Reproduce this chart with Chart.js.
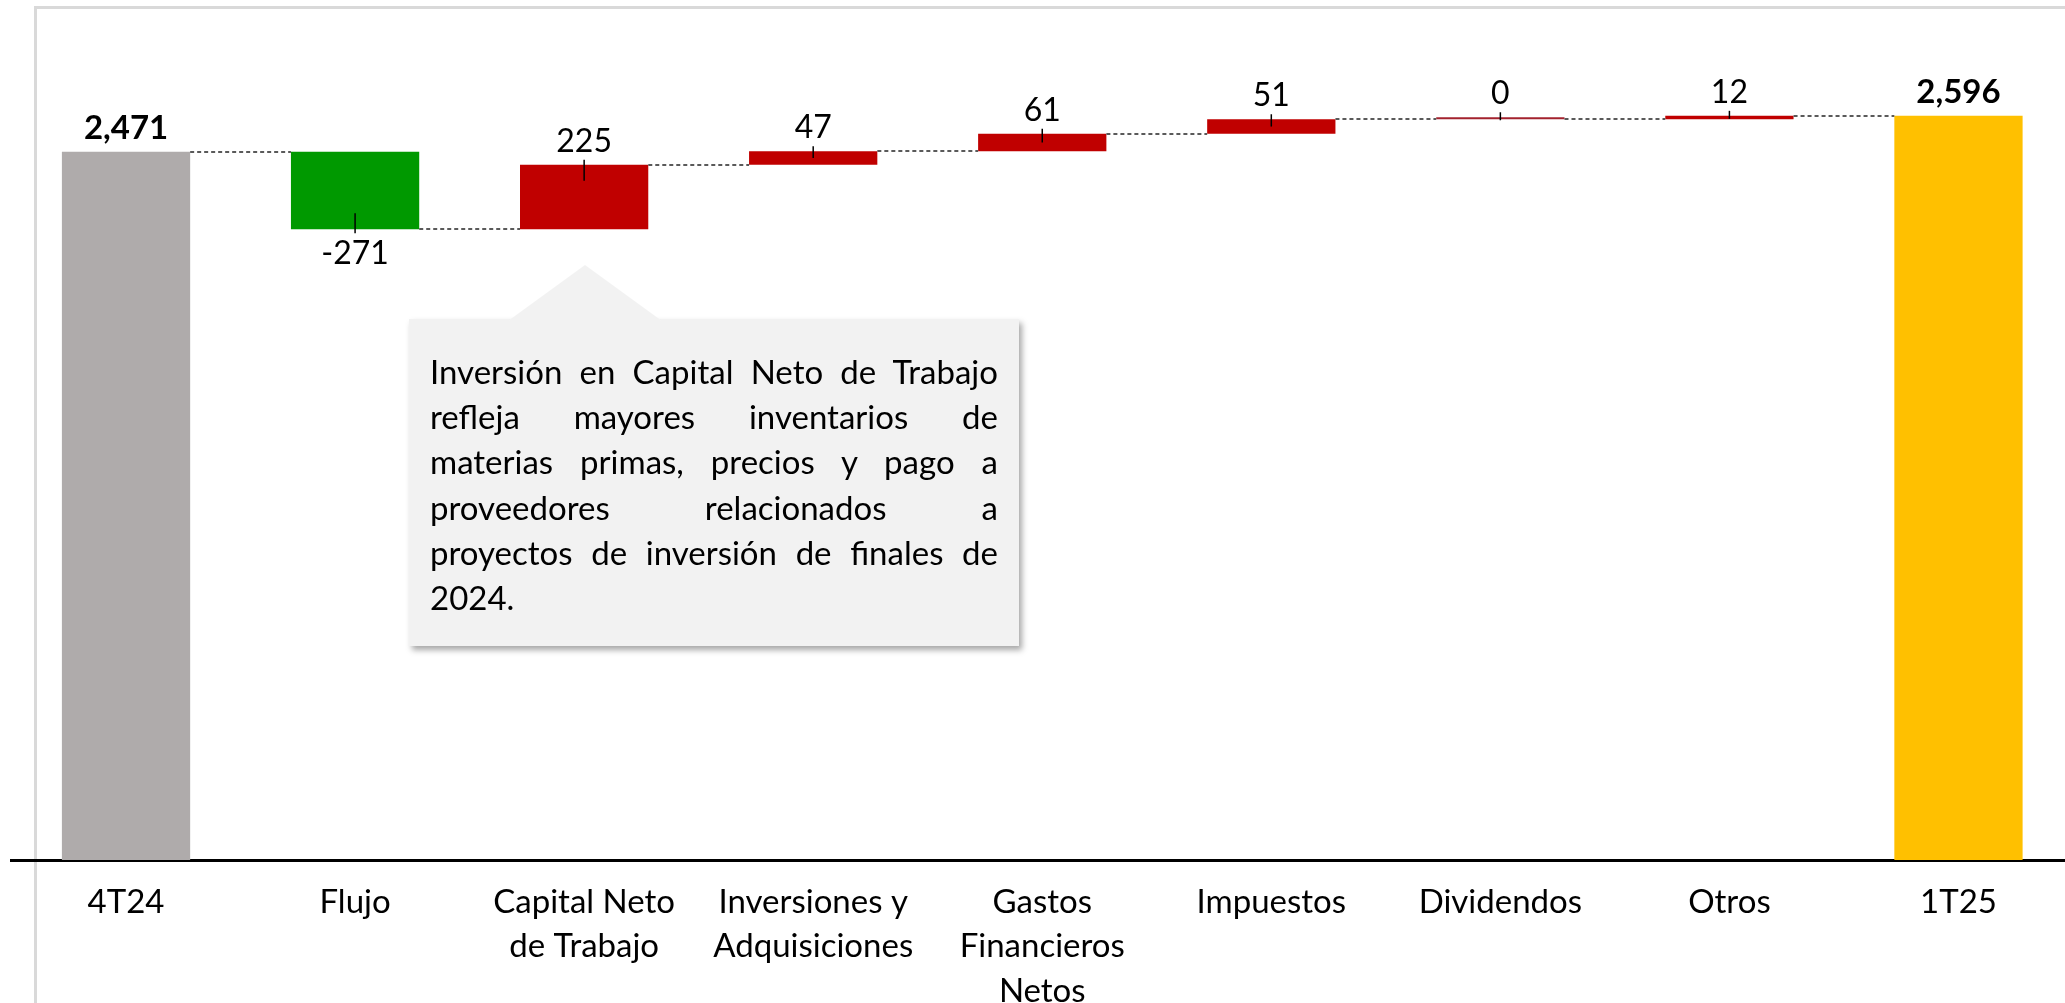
<!DOCTYPE html>
<html>
<head>
<meta charset="utf-8">
<script src="https://cdn.jsdelivr.net/npm/chart.js@4.4.1/dist/chart.umd.min.js"></script>
<style>
  html, body { margin: 0; padding: 0; background: #fff; overflow: hidden; }
  #frame { position: absolute; left: 34px; top: 6px; width: 2100px; height: 1100px;
           border-left: 3px solid #d9d9d9; border-top: 3px solid #d9d9d9; }
  #wrap { position: absolute; left: 0; top: 0; width: 2073px; height: 1003px; }
  #note { position: absolute; left: 409px; top: 319px; width: 568px; height: 297px;
          padding: 30px 21px 0 21px; background: #f2f2f2;
          box-shadow: 3px 4px 6px rgba(0,0,0,0.35);
          font-family: Lato, sans-serif; font-size: 33px; line-height: 45.2px; color: #000; }
  #note div { text-align: justify; text-align-last: justify; white-space: nowrap; }
  #note div.last { text-align-last: left; }
  #tip { position: absolute; left: 508px; top: 265px; width: 154px; height: 56px;
         background: #f2f2f2; clip-path: polygon(50% 0, 100% 100%, 0 100%); }
</style>
</head>
<body>
<div id="frame"></div>
<div id="wrap"><canvas id="flowChart"></canvas></div>
<div id="note">
  <div>Inversión en Capital Neto de Trabajo</div>
  <div>refleja mayores inventarios de</div>
  <div>materias primas, precios y pago a</div>
  <div>proveedores relacionados a</div>
  <div>proyectos de inversión de finales de</div>
  <div class="last">2024.</div>
</div>
<div id="tip"></div>
<script>
const categories = [['4T24'], ['Flujo'], ['Capital Neto', 'de Trabajo'], ['Inversiones y', 'Adquisiciones'],
  ['Gastos', 'Financieros', 'Netos'], ['Impuestos'], ['Dividendos'], ['Otros'], ['1T25']];
const values = [2471, -271, 225, 47, 61, 51, 0, 12, 2596];
const isTotal = [true, false, false, false, false, false, false, false, true];

document.addEventListener('DOMContentLoaded', () => {
  // build floating bars from the running total
  let run = 0;
  const ranges = [];
  const levels = [];
  values.forEach((v, i) => {
    if (isTotal[i]) {
      ranges.push([0, v]);
      run = v;
    } else {
      ranges.push([run, run + v]);
      run += v;
    }
    levels.push(run);
  });

  const colors = values.map((v, i) => {
    if (i === 0) return '#AFABAB';
    if (i === values.length - 1) return '#FFC000';
    if (v < 0) return '#009900';
    if (v === 0) return '#A3222E';
    return '#C00000';
  });

  const fmt = v => {
    const s = Math.abs(v).toLocaleString('en-US');
    return (v < 0 ? '-' : '') + s;
  };

  const waterfallExtras = {
    id: 'waterfallExtras',
    afterDatasetsDraw(chart) {
      const ctx = chart.ctx;
      const y = chart.scales.y;
      const bars = chart.getDatasetMeta(0).data;

      // dashed connectors
      ctx.save();
      ctx.strokeStyle = '#5a5a5a';
      ctx.lineWidth = 2;
      ctx.setLineDash([4, 3]);
      for (let i = 0; i < bars.length - 1; i++) {
        const py = Math.round(y.getPixelForValue(levels[i]));
        ctx.beginPath();
        ctx.moveTo(bars[i].x + bars[i].width / 2, py);
        ctx.lineTo(bars[i + 1].x - bars[i + 1].width / 2, py);
        ctx.stroke();
      }
      ctx.restore();

      // value labels
      ctx.save();
      ctx.fillStyle = '#000';
      ctx.textAlign = 'center';
      ctx.textBaseline = 'alphabetic';
      bars.forEach((b, i) => {
        const top = Math.min(b.y, b.base);
        const bottom = Math.max(b.y, b.base);
        const v = values[i];
        ctx.font = (isTotal[i] ? 'bold 33px' : '32px') + ' Lato, sans-serif';
        if (v < 0) {
          ctx.fillText(fmt(v), b.x, bottom + 35);
        } else {
          ctx.fillText(fmt(v), b.x, top - 13);
        }
        if (!isTotal[i]) {
          const h = bottom - top;
          const inside = Math.min(16, Math.max(h / 2, 3));
          ctx.strokeStyle = '#000';
          ctx.lineWidth = 1.5;
          ctx.beginPath();
          if (v < 0) {
            ctx.moveTo(b.x, bottom + 4);
            ctx.lineTo(b.x, bottom - inside);
          } else {
            ctx.moveTo(b.x, top - 5);
            ctx.lineTo(b.x, top + inside);
          }
          ctx.stroke();
        }
      });
      ctx.restore();
    }
  };

  const ctx = document.getElementById('flowChart').getContext('2d');
  new Chart(ctx, {
    type: 'bar',
    data: {
      labels: categories,
      datasets: [{
        data: ranges,
        backgroundColor: colors,
        borderWidth: 0,
        barPercentage: 0.56,
        categoryPercentage: 1,
        minBarLength: 2
      }]
    },
    options: {
      responsive: true,
      maintainAspectRatio: false,
      devicePixelRatio: 1,
      animation: false,
      layout: { padding: { left: 11.5, right: 0, top: 0, bottom: 0 } },
      plugins: {
        legend: { display: false },
        tooltip: { enabled: false }
      },
      scales: {
        x: {
          grid: { display: false },
          border: { display: true, color: '#000', width: 3 },
          ticks: {
            color: '#000',
            padding: 12,
            maxRotation: 0,
            autoSkip: false,
            font: { family: 'Lato, sans-serif', size: 33, lineHeight: 1.35 }
          },
          afterFit(scale) { scale.height = 143; }
        },
        y: {
          display: false,
          min: 0,
          max: 3000
        }
      }
    },
    plugins: [waterfallExtras]
  });
});
</script>
</body>
</html>
